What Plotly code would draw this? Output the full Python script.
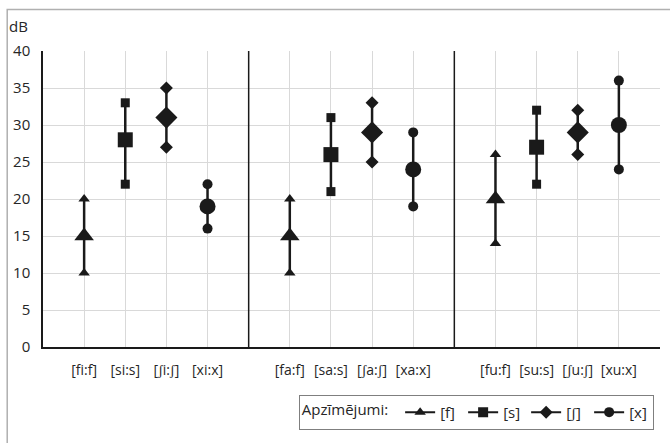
import plotly.graph_objects as go

groups = ["i", "a", "u"]
series = ["[f]", "[s]", "[ʃ]", "[x]"]
tick_labels = [
    "[fi:f]", "[si:s]", "[ʃi:ʃ]", "[xi:x]",
    "[fa:f]", "[sa:s]", "[ʃa:ʃ]", "[xa:x]",
    "[fu:f]", "[su:s]", "[ʃu:ʃ]", "[xu:x]",
]
# values per series, one per vowel group (i, a, u)
f_mean = [15, 15, 20]
f_min = [10, 10, 14]
f_max = [20, 20, 26]
s_mean = [28, 26, 27]
s_min = [22, 21, 22]
s_max = [33, 31, 32]
sh_mean = [31, 29, 29]
sh_min = [27, 25, 26]
sh_max = [35, 33, 32]
x_mean = [19, 24, 30]
x_min = [16, 19, 24]
x_max = [22, 29, 36]

means = [f_mean, s_mean, sh_mean, x_mean]
mins = [f_min, s_min, sh_min, x_min]
maxs = [f_max, s_max, sh_max, x_max]
symbols = ["triangle-up", "square", "diamond", "circle"]
big = [17, 15, 17, 16]
small = [10, 9, 10, 10]

FONT = "Open Sans"
fig = go.Figure()

def pos(g, k):
    return g * 5 + k

for k in range(4):
    xs, ys = [], []
    for g in range(3):
        xs += [pos(g, k), pos(g, k), None]
        ys += [mins[k][g], maxs[k][g], None]
    fig.add_trace(go.Scatter(x=xs, y=ys, mode="lines", line=dict(color="#1a1a1a", width=2.5),
                             showlegend=False, hoverinfo="skip"))
    ex = [pos(g, k) for g in range(3) for _ in range(2)]
    ey = [v for g in range(3) for v in (mins[k][g], maxs[k][g])]
    fig.add_trace(go.Scatter(x=ex, y=ey, mode="markers",
                             marker=dict(symbol=symbols[k], size=small[k], color="#1a1a1a"),
                             showlegend=False))
    fig.add_trace(go.Scatter(x=[pos(g, k) for g in range(3)], y=means[k], mode="markers",
                             marker=dict(symbol=symbols[k], size=big[k], color="#1a1a1a"),
                             showlegend=False))
    # legend entry
    fig.add_trace(go.Scatter(x=[None], y=[None], mode="lines+markers", name=series[k],
                             line=dict(color="#1a1a1a", width=2),
                             marker=dict(symbol=symbols[k], size=10, color="#1a1a1a")))

tickvals = [pos(g, k) for g in range(3) for k in range(4)] + [14]
ticktext = tick_labels + [""]

shapes = []
for g in range(1, 3):
    sx = g * 5 - 1
    shapes.append(dict(type="line", xref="x", yref="y", x0=sx, x1=sx, y0=0, y1=40,
                       line=dict(color="#1a1a1a", width=1.5)))
shapes.append(dict(type="rect", xref="paper", yref="paper", x0=-0.058, x1=1.02, y0=-0.4, y1=1.14,
                   line=dict(color="#b0b0b0", width=1.5)))

fig.update_layout(
    width=670, height=443,
    margin=dict(l=43, r=10, t=51, b=96),
    paper_bgcolor="white", plot_bgcolor="white",
    font=dict(family=FONT, color="#262626", size=14),
    xaxis=dict(range=[-1, 14], tickvals=tickvals, ticktext=ticktext, showgrid=True,
               gridcolor="#d9d9d9", gridwidth=1, zeroline=False, showline=True,
               linecolor="#1a1a1a", linewidth=1.5, ticks="", tickfont=dict(size=14, family=FONT),
               ticklabelstandoff=9, automargin=False),
    yaxis=dict(range=[0, 40], dtick=5, showgrid=True, gridcolor="#d9d9d9", gridwidth=1,
               zeroline=False, showline=True, linecolor="#1a1a1a", linewidth=1.5, ticks="",
               tickfont=dict(size=15, family=FONT), ticklabelstandoff=8, automargin=False),
    shapes=shapes,
    legend=dict(orientation="h", x=0.99, xanchor="right", y=-0.28, yanchor="bottom",
                bordercolor="#7f7f7f", borderwidth=1, bgcolor="white",
                font=dict(size=15, family=FONT), itemwidth=30, tracegroupgap=0,
                entrywidth=18, entrywidthmode="pixels",
                title=dict(text="Apzīmējumi: ", font=dict(size=15, family=FONT), side="left")),
    annotations=[dict(text="dB", xref="paper", yref="paper", x=-0.058, y=1.085, xanchor="left",
                      yanchor="middle", showarrow=False, font=dict(size=15, family=FONT))],
)

fig.write_html("out.html", post_script="document.body.style.margin='0';",
               config={"displayModeBar": False})
